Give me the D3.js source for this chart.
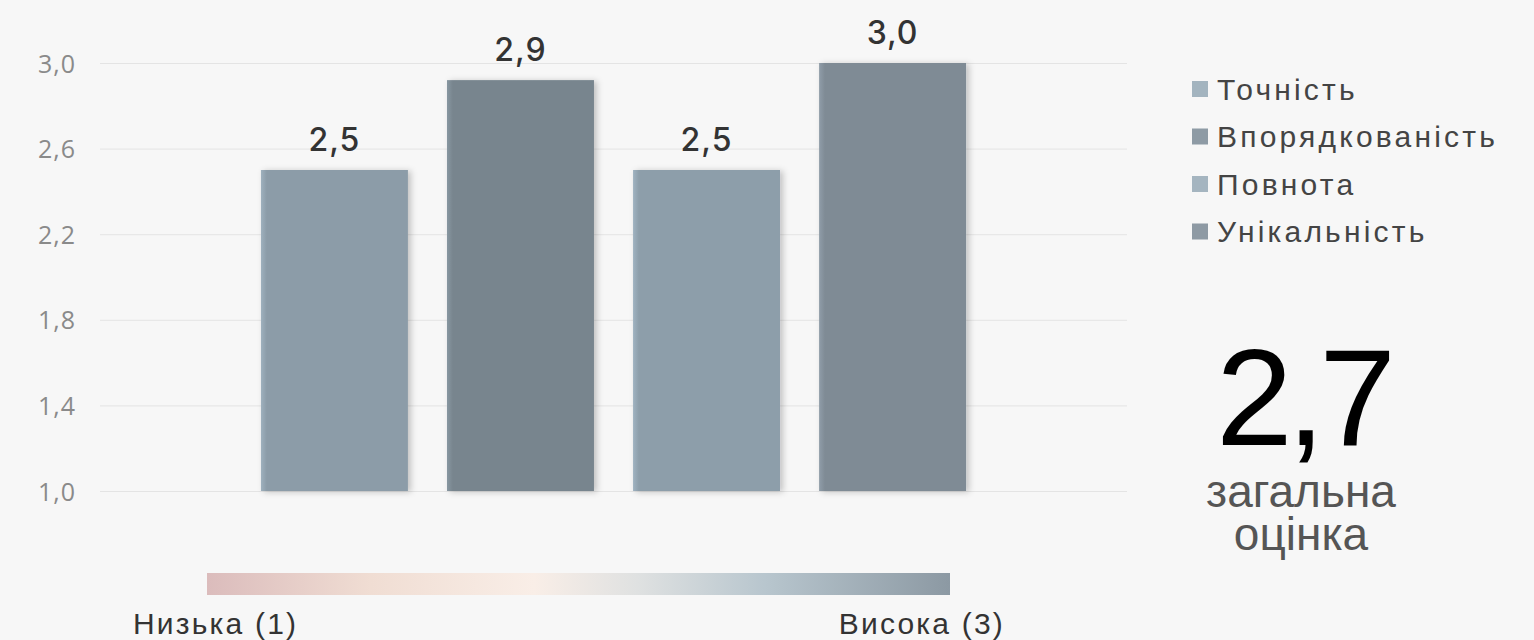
<!doctype html>
<html lang="uk">
<head>
	<meta charset="utf-8">
	<title>Оцінка якості</title>
	<script src="https://d3js.org/d3.v7.min.js"></script>
	<style>
		html, body { margin: 0; padding: 0; background: #f7f7f7; }
		svg { display: block; }
	</style>
</head>
<body>
	<script>
		var width = 1534;
		var height = 640;

		// data
		var categories = ["Точність", "Впорядкованість", "Повнота", "Унікальність"];
		var values = [2.5, 2.92, 2.5, 3.0];
		var barColors = ["#8c9ca8", "#78858e", "#8d9eaa", "#7f8b95"];
		var legendColors = ["#a3b4bf", "#8e9ba5", "#a5b5c0", "#8e9aa4"];
		var yTicks = [1.0, 1.4, 1.8, 2.2, 2.6, 3.0];
		var overall = "2,7";
		var overallLabel = ["загальна", "оцінка"];
		var scaleLabels = ["Низька (1)", "Висока (3)"];
		var scaleStops = [
			{offset: "0%", color: "#dbbcbc"},
			{offset: "22%", color: "#f0ddd3"},
			{offset: "44%", color: "#f9eee7"},
			{offset: "58%", color: "#dfe1e1"},
			{offset: "75%", color: "#b8c6ce"},
			{offset: "100%", color: "#8c99a3"}
		];

		var fmt = function(v) { return d3.format(".1f")(v).replace(".", ","); };

		var svg = d3.select("body").append("svg")
			.attr("width", width)
			.attr("height", height)
			.style("background", "#f7f7f7");

		var defs = svg.append("defs");

		// soft shadow to the right of the bars
		var shadow = defs.append("filter")
			.attr("id", "shadow")
			.attr("x", "-10%").attr("y", "-10%")
			.attr("width", "130%").attr("height", "120%");
		shadow.append("feDropShadow")
			.attr("dx", 3).attr("dy", 1)
			.attr("stdDeviation", 3)
			.attr("flood-color", "#000")
			.attr("flood-opacity", 0.22);

		// each bar gets a lighter sliver on its left edge
		barColors.forEach(function(c, i) {
			var g = defs.append("linearGradient")
				.attr("id", "bar" + i)
				.attr("x1", "0").attr("x2", "1").attr("y1", "0").attr("y2", "0");
			g.append("stop").attr("offset", "0%").attr("stop-color", d3.color(c).brighter(0.35));
			g.append("stop").attr("offset", "4%").attr("stop-color", c);
			g.append("stop").attr("offset", "100%").attr("stop-color", c);
		});

		var x = d3.scaleBand()
			.domain(categories)
			.range([100, 1127])
			.paddingInner(0.21)
			.paddingOuter(0.865);

		var y = d3.scaleLinear()
			.domain([1.0, 3.0])
			.range([491, 63]);

		// gridlines
		svg.append("g")
			.selectAll("line")
			.data(yTicks)
			.enter()
			.append("line")
			.attr("x1", 100)
			.attr("x2", 1127)
			.attr("y1", function(d) { return y(d) + 0.5; })
			.attr("y2", function(d) { return y(d) + 0.5; })
			.style("stroke", "#e4e4e4")
			.style("stroke-width", 1);

		// y axis labels
		var yAxis = d3.axisLeft(y)
			.tickValues(yTicks)
			.tickFormat(fmt)
			.tickSize(0)
			.tickPadding(0);
		var yg = svg.append("g")
			.attr("transform", "translate(76,0)")
			.call(yAxis);
		yg.select(".domain").remove();
		yg.selectAll("text")
			.attr("dy", "0.36em")
			.style("font-family", "'Open Sans', sans-serif")
			.style("font-size", "25px")
			.style("letter-spacing", "1px")
			.style("fill", "#8a8a8a");

		// bars
		svg.append("g")
			.selectAll("rect")
			.data(values)
			.enter()
			.append("rect")
			.attr("x", function(d, i) { return x(categories[i]); })
			.attr("y", function(d) { return y(d); })
			.attr("width", x.bandwidth())
			.attr("height", function(d) { return y(1.0) - y(d); })
			.attr("fill", function(d, i) { return "url(#bar" + i + ")"; })
			.attr("filter", "url(#shadow)");

		// value labels
		svg.append("g")
			.selectAll("text")
			.data(values)
			.enter()
			.append("text")
			.attr("x", function(d, i) { return x(categories[i]) + x.bandwidth() / 2; })
			.attr("y", function(d) { return y(d) - 19; })
			.attr("text-anchor", "middle")
			.style("font-family", "Inter, 'Open Sans', sans-serif")
			.style("font-size", "32px")
			.style("font-weight", 500)
			.style("letter-spacing", "1px")
			.style("fill", "#333")
			.text(fmt);

		// legend
		var legend = svg.append("g")
			.selectAll("g")
			.data(categories)
			.enter()
			.append("g")
			.attr("transform", function(d, i) { return "translate(1192," + (89 + i * 47.5) + ")"; });

		legend.append("rect")
			.attr("x", 0)
			.attr("y", -8)
			.attr("width", 16)
			.attr("height", 16)
			.style("fill", function(d, i) { return legendColors[i]; });

		legend.append("text")
			.attr("x", 25)
			.attr("y", 0)
			.attr("dy", "0.36em")
			.style("font-family", "'Liberation Sans', Arial, sans-serif")
			.style("font-size", "30px")
			.style("letter-spacing", "3.2px")
			.style("fill", "#444")
			.text(function(d) { return d; });

		// overall score
		svg.append("text")
			.attr("x", 1303)
			.attr("y", 445)
			.attr("text-anchor", "middle")
			.style("font-family", "'Liberation Sans', Arial, sans-serif")
			.style("font-size", "138px")
			.style("letter-spacing", "-6px")
			.style("fill", "#000")
			.text(overall);

		svg.append("g")
			.selectAll("text")
			.data(overallLabel)
			.enter()
			.append("text")
			.attr("x", 1301)
			.attr("y", function(d, i) { return 507 + i * 43; })
			.attr("text-anchor", "middle")
			.style("font-family", "'Liberation Sans', Arial, sans-serif")
			.style("font-size", "46px")
			.style("fill", "#555")
			.text(function(d) { return d; });

		// colour scale strip
		var grad = defs.append("linearGradient")
			.attr("id", "scale")
			.attr("x1", "0").attr("x2", "1").attr("y1", "0").attr("y2", "0");
		grad.selectAll("stop")
			.data(scaleStops)
			.enter()
			.append("stop")
			.attr("offset", function(d) { return d.offset; })
			.attr("stop-color", function(d) { return d.color; });

		svg.append("rect")
			.attr("x", 207)
			.attr("y", 573)
			.attr("width", 743)
			.attr("height", 22)
			.style("fill", "url(#scale)");

		svg.append("g")
			.selectAll("text")
			.data(scaleLabels)
			.enter()
			.append("text")
			.attr("x", function(d, i) { return i === 0 ? 133 : 1005; })
			.attr("y", 634)
			.attr("text-anchor", function(d, i) { return i === 0 ? "start" : "end"; })
			.style("font-family", "'Liberation Sans', Arial, sans-serif")
			.style("font-size", "30px")
			.style("letter-spacing", "2.2px")
			.style("fill", "#333")
			.text(function(d) { return d; });
	</script>
</body>
</html>
